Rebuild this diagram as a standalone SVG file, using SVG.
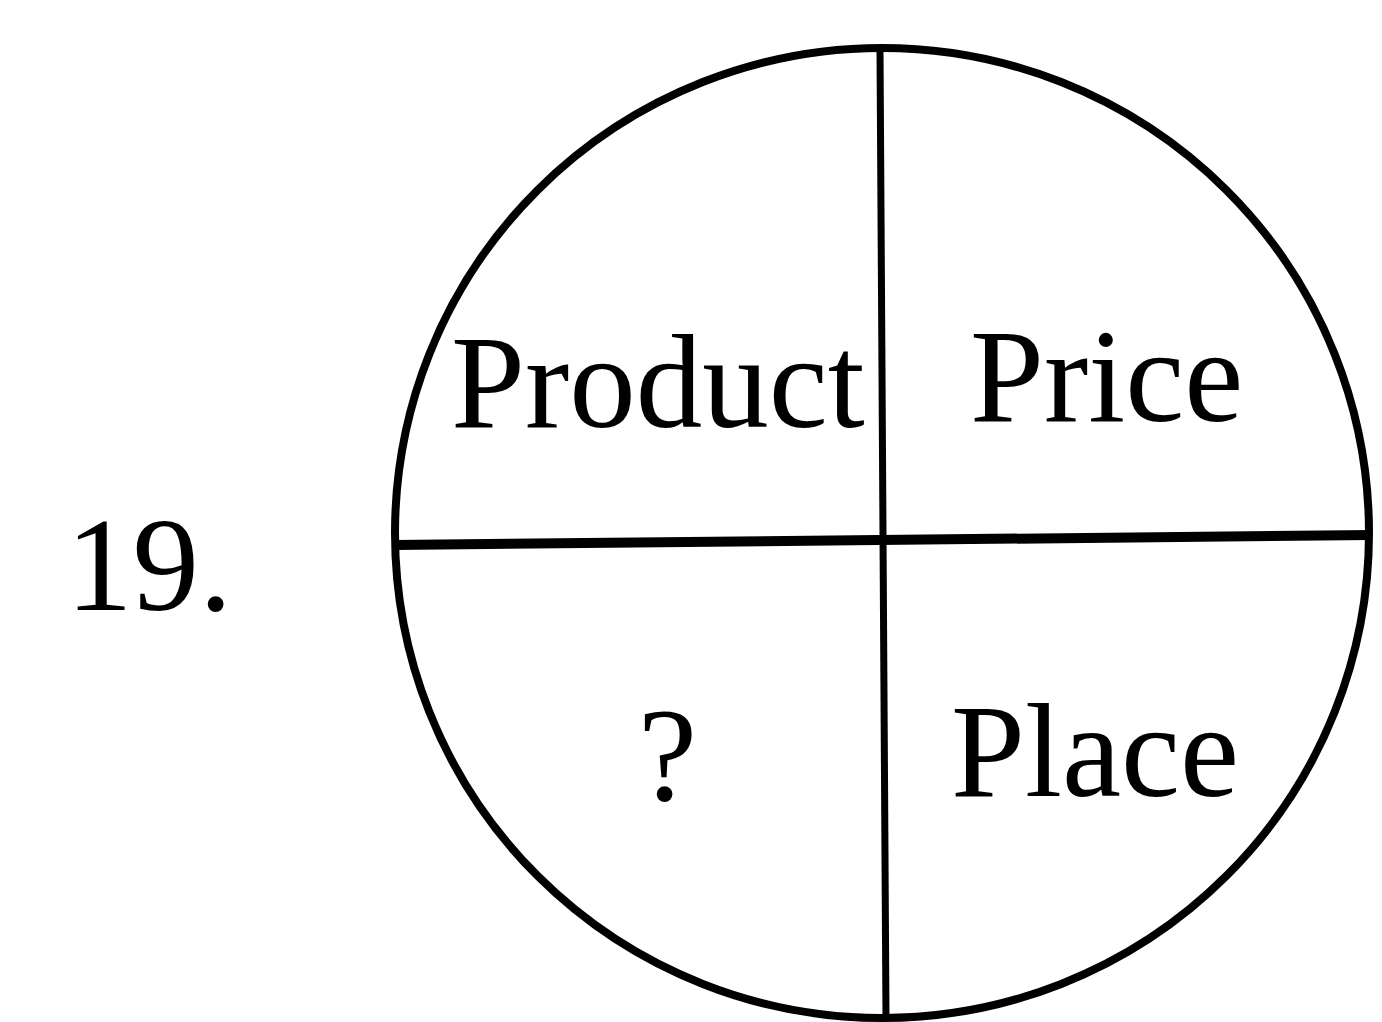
<svg xmlns="http://www.w3.org/2000/svg" width="1382" height="1022" viewBox="0 0 1382 1022">
<style>
.t{font-family:"Liberation Serif","Times New Roman",serif;font-size:133px;fill:#000}
.s{fill:none;stroke:#000;stroke-linecap:butt}
</style>
<rect width="1382" height="1022" fill="#fff"/>
<g id="label"><text class="t" x="66" y="610">19.</text></g>
<g id="circle"><ellipse class="s" cx="882" cy="533" rx="487" ry="485" stroke-width="8"/></g>
<g id="connectors">
<line class="s" x1="395" y1="545" x2="1372" y2="535" stroke-width="10"/>
<line class="s" x1="880" y1="50" x2="886" y2="1018" stroke-width="7"/>
</g>
<g id="product"><text class="t" x="451" y="427">Product</text></g>
<g id="price"><text class="t" x="970" y="421">Price</text></g>
<g id="question"><text class="t" x="638" y="800">?</text></g>
<g id="place"><text class="t" x="951" y="796">Place</text></g>
</svg>
